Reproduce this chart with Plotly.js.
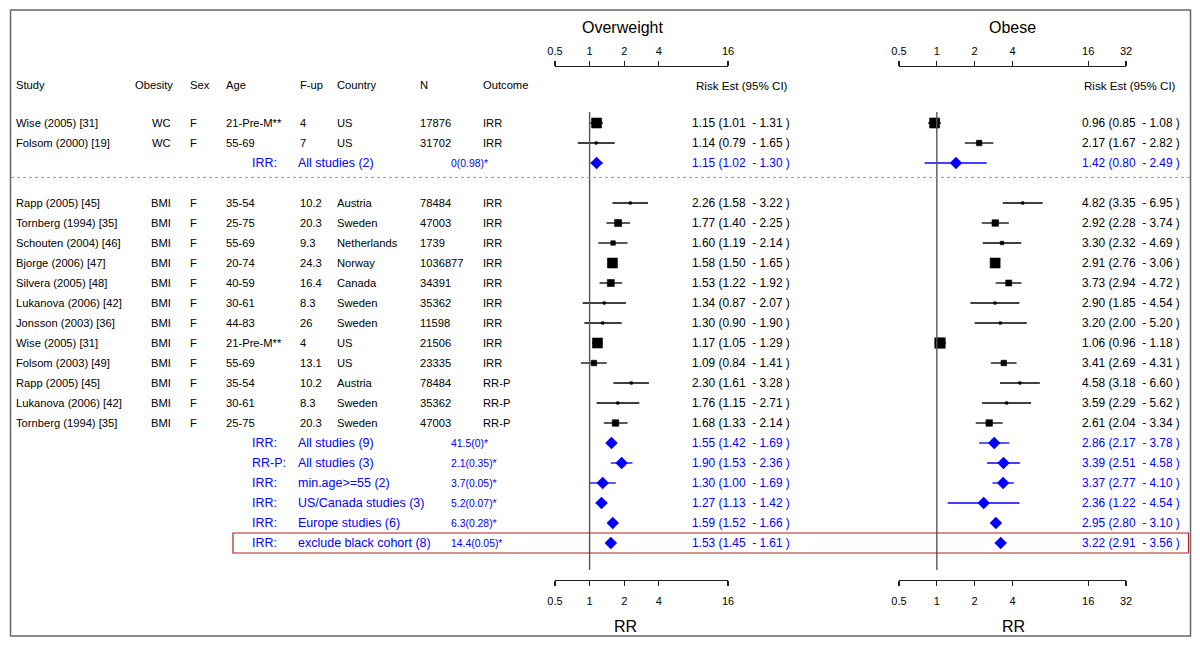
<!DOCTYPE html>
<html>
<head>
<meta charset="utf-8">
<script src="https://cdn.plot.ly/plotly-3.0.1.min.js"></script>
<style>
html,body{margin:0;padding:0;background:#fff;}
#chart{width:1200px;height:646px;}
</style>
</head>
<body>
<div id="chart"></div>
<script>
// ---------------- data ----------------
var studies = ["Wise (2005) [31]", "Folsom (2000) [19]", "Rapp (2005) [45]", "Tornberg (1994) [35]", "Schouten (2004) [46]", "Bjorge (2006) [47]", "Silvera (2005) [48]", "Lukanova (2006) [42]", "Jonsson (2003) [36]", "Wise (2005) [31]", "Folsom (2003) [49]", "Rapp (2005) [45]", "Lukanova (2006) [42]", "Tornberg (1994) [35]"];
var obesity = ["WC", "WC", "BMI", "BMI", "BMI", "BMI", "BMI", "BMI", "BMI", "BMI", "BMI", "BMI", "BMI", "BMI"];
var sex = ["F", "F", "F", "F", "F", "F", "F", "F", "F", "F", "F", "F", "F", "F"];
var age = ["21-Pre-M**", "55-69", "35-54", "25-75", "55-69", "20-74", "40-59", "30-61", "44-83", "21-Pre-M**", "55-69", "35-54", "30-61", "25-75"];
var fup = ["4", "7", "10.2", "20.3", "9.3", "24.3", "16.4", "8.3", "26", "4", "13.1", "10.2", "8.3", "20.3"];
var country = ["US", "US", "Austria", "Sweden", "Netherlands", "Norway", "Canada", "Sweden", "Sweden", "US", "US", "Austria", "Sweden", "Sweden"];
var nSubjects = ["17876", "31702", "78484", "47003", "1739", "1036877", "34391", "35362", "11598", "21506", "23335", "78484", "35362", "47003"];
var outcome = ["IRR", "IRR", "IRR", "IRR", "IRR", "IRR", "IRR", "IRR", "IRR", "IRR", "IRR", "RR-P", "RR-P", "RR-P"];

var owEst = [1.15, 1.14, 2.26, 1.77, 1.60, 1.58, 1.53, 1.34, 1.30, 1.17, 1.09, 2.30, 1.76, 1.68];
var owLo  = [1.01, 0.79, 1.58, 1.40, 1.19, 1.50, 1.22, 0.87, 0.90, 1.05, 0.84, 1.61, 1.15, 1.33];
var owHi  = [1.31, 1.65, 3.22, 2.25, 2.14, 1.65, 1.92, 2.07, 1.90, 1.29, 1.41, 3.28, 2.71, 2.14];
var owWeight = [10, 2.5, 2.5, 7, 4.5, 10, 7, 2.5, 2.5, 10, 5.5, 2.5, 2.5, 6.5];

var obEst = [0.96, 2.17, 4.82, 2.92, 3.30, 2.91, 3.73, 2.90, 3.20, 1.06, 3.41, 4.58, 3.59, 2.61];
var obLo  = [0.85, 1.67, 3.35, 2.28, 2.32, 2.76, 2.94, 1.85, 2.00, 0.96, 2.69, 3.18, 2.29, 2.04];
var obHi  = [1.08, 2.82, 6.95, 3.74, 4.69, 3.06, 4.72, 4.54, 5.20, 1.18, 4.31, 6.60, 5.62, 3.34];
var obWeight = [10, 5.5, 2.5, 6.5, 3.5, 10, 6, 2.5, 2.5, 10.5, 5.5, 2.5, 2.5, 6.5];

var sumType  = ["IRR:", "IRR:", "RR-P:", "IRR:", "IRR:", "IRR:", "IRR:"];
var sumLabel = ["All studies (2)", "All studies (9)", "All studies (3)", "min.age>=55 (2)", "US/Canada studies (3)", "Europe studies (6)", "exclude black cohort (8)"];
var sumQ     = ["0(0.98)*", "41.5(0)*", "2.1(0.35)*", "3.7(0.05)*", "5.2(0.07)*", "6.3(0.28)*", "14.4(0.05)*"];
var owSumEst = [1.15, 1.55, 1.90, 1.30, 1.27, 1.59, 1.53];
var owSumLo  = [1.02, 1.42, 1.53, 1.00, 1.13, 1.52, 1.45];
var owSumHi  = [1.30, 1.69, 2.36, 1.69, 1.42, 1.66, 1.61];
var obSumEst = [1.42, 2.86, 3.39, 3.37, 2.36, 2.95, 3.22];
var obSumLo  = [0.80, 2.17, 2.51, 2.77, 1.22, 2.80, 2.91];
var obSumHi  = [2.49, 3.78, 4.58, 4.10, 4.54, 3.10, 3.56];

var headers = ["Study", "Obesity", "Sex", "Age", "F-up", "Country", "N", "Outcome"];
var owTicks = [0.5, 1, 2, 4, 16];
var obTicks = [0.5, 1, 2, 4, 16, 32];
var panelTitles = ["Overweight", "Obese"];
var axisLabel = "RR";
var estHeader = "Risk Est (95% CI)";

// ---------------- layout helpers ----------------
var W = 1200, H = 646;
var FONT = "Liberation Sans, Arial, Helvetica, sans-serif";
var BLUE = "#0000ff";
function px(x) { return x / W; }
function py(y) { return 1 - y / H; }
// row index -> rows placed 20px apart, first row at pixel 123
var Y_RANGE = [(H - 123) / 20, -123 / 20];

// rows: first group (2 studies) then summary, gap, remaining studies, summaries
var studyRow = [];
for (var i = 0; i < studies.length; i++) studyRow.push(i < 2 ? i : i + 2);
var sumRow = [2];
for (var j = 1; j < sumType.length; j++) sumRow.push(15 + j);
var headerRow = -1.9;

function fmt(e, l, h) { return e.toFixed(2) + " (" + l.toFixed(2) + "  - " + h.toFixed(2) + " )"; }
function diff(a, b) { return a.map(function (v, i) { return v - b[i]; }); }

var annotations = [];
function ann(text, x, y, opt) {
  var a = {xref: "paper", yref: "y", x: px(x), y: y, text: text, showarrow: false,
    xanchor: "left", yanchor: "middle", borderpad: 0, borderwidth: 0,
    font: {family: FONT, size: 11.2, color: "#000"}};
  for (var k in opt) a[k] = opt[k];
  return a;
}

// table columns (left pixel positions)
var colX = {study: 16, obesityHdr: 134.5, obesityRight: 170.5, sex: 189.5, age: 225.5, fup: 300, country: 336.5, n: 419.5, outcome: 483};
var headerX = [colX.study, colX.obesityHdr, colX.sex, colX.age, colX.fup, colX.country, colX.n, colX.outcome];
headers.forEach(function (h, i) { annotations.push(ann(h, headerX[i], headerRow)); });
annotations.push(ann(estHeader, 696, headerRow, {font: {family: FONT, size: 11.6, color: "#000"}}));
annotations.push(ann(estHeader, 1084, headerRow, {font: {family: FONT, size: 11.6, color: "#000"}}));

for (var i = 0; i < studies.length; i++) {
  var r = studyRow[i];
  annotations.push(ann(studies[i], colX.study, r));
  annotations.push(ann(obesity[i], colX.obesityRight, r, {xanchor: "right"}));
  annotations.push(ann(sex[i], colX.sex, r));
  annotations.push(ann(age[i], colX.age, r));
  annotations.push(ann(fup[i], colX.fup, r));
  annotations.push(ann(country[i], colX.country, r));
  annotations.push(ann(nSubjects[i], colX.n, r));
  annotations.push(ann(outcome[i], colX.outcome, r));
  annotations.push(ann(fmt(owEst[i], owLo[i], owHi[i]), 691.5, r, {font: {family: FONT, size: 11.9, color: "#000"}}));
  annotations.push(ann(fmt(obEst[i], obLo[i], obHi[i]), 1081.5, r, {font: {family: FONT, size: 11.9, color: "#000"}}));
}
for (var j = 0; j < sumType.length; j++) {
  var r = sumRow[j];
  annotations.push(ann(sumType[j], 251.5, r, {font: {family: FONT, size: 12.5, color: BLUE}}));
  annotations.push(ann(sumLabel[j], 298, r, {font: {family: FONT, size: 12.5, color: BLUE}}));
  annotations.push(ann(sumQ[j], 450.5, r, {font: {family: FONT, size: 10.4, color: BLUE}}));
  annotations.push(ann(fmt(owSumEst[j], owSumLo[j], owSumHi[j]), 691.5, r, {font: {family: FONT, size: 11.9, color: BLUE}}));
  annotations.push(ann(fmt(obSumEst[j], obSumLo[j], obSumHi[j]), 1081.5, r, {font: {family: FONT, size: 11.9, color: BLUE}}));
}
// panel titles and axis labels
annotations.push(ann(panelTitles[0], 622.5, (27 - 123) / 20, {xanchor: "center", font: {family: FONT, size: 16, color: "#000"}}));
annotations.push(ann(panelTitles[1], 1012, (27 - 123) / 20, {xanchor: "center", font: {family: FONT, size: 16, color: "#000"}}));
annotations.push(ann(axisLabel, 625, (626 - 123) / 20, {xanchor: "center", font: {family: FONT, size: 16, color: "#000"}}));
annotations.push(ann(axisLabel, 1013, (626 - 123) / 20, {xanchor: "center", font: {family: FONT, size: 16, color: "#000"}}));

// ---------------- traces ----------------
var errStyle = function (color) { return {type: "data", symmetric: false, width: 0, thickness: 1.3, color: color}; };
function studyTrace(est, lo, hi, sizes, xa) {
  var e = errStyle("#000"); e.array = diff(hi, est); e.arrayminus = diff(est, lo);
  return {type: "scatter", mode: "markers", xaxis: xa, yaxis: "y", x: est, y: studyRow,
    marker: {symbol: "square", size: sizes, color: "#000", opacity: 1, line: {width: 0.6, color: "#000"}}, error_x: e,
    hoverinfo: "skip", showlegend: false};
}
function sumTrace(est, lo, hi, xa) {
  var e = errStyle(BLUE); e.array = diff(hi, est); e.arrayminus = diff(est, lo);
  return {type: "scatter", mode: "markers", xaxis: xa, yaxis: "y", x: est, y: sumRow,
    marker: {symbol: "diamond", size: 9.6, color: BLUE, opacity: 1, line: {width: 0}}, error_x: e,
    hoverinfo: "skip", showlegend: false};
}
var refTop = (112 - 123) / 20, refBottom = (570 - 123) / 20;
function refLine(xa) {
  return {type: "scatter", mode: "lines", xaxis: xa, yaxis: "y", x: [1, 1], y: [refTop, refBottom],
    line: {color: "#555", width: 1.4}, hoverinfo: "skip", showlegend: false};
}
var traces = [
  refLine("x4"), refLine("x5"),
  studyTrace(owEst, owLo, owHi, owWeight, "x2"),
  studyTrace(obEst, obLo, obHi, obWeight, "x3"),
  sumTrace(owSumEst, owSumLo, owSumHi, "x2"),
  sumTrace(obSumEst, obSumLo, obSumHi, "x3")
];

function logAxis(domain, ticks, side, position, range) {
  return {type: "log", domain: domain, range: range, anchor: "free", position: position, side: side,
    showline: true, linecolor: "#222", linewidth: 1.2, ticks: "outside", ticklen: 5, tickwidth: 1.1, tickcolor: "#222",
    tickmode: "array", tickvals: ticks, ticktext: ticks.map(String),
    tickfont: {family: FONT, size: 11, color: "#000"}, showgrid: false, zeroline: false, fixedrange: true,
    ticklabelstandoff: side === "top" ? 2 : 6};
}
var owDomain = [px(555), px(728)], obDomain = [px(899), px(1126)];
var owRange = [Math.log10(0.5), Math.log10(16)], obRange = [Math.log10(0.5), Math.log10(32)];

var layout = {
  width: W, height: H, margin: {l: 0, r: 0, t: 0, b: 0, pad: 0},
  paper_bgcolor: "#fff", plot_bgcolor: "rgba(0,0,0,0)", showlegend: false,
  font: {family: FONT, color: "#000"},
  xaxis: {visible: false, domain: [0, 1], range: [0, W]},
  yaxis: {visible: false, domain: [0, 1], range: Y_RANGE, anchor: "x", fixedrange: true},
  xaxis2: logAxis(owDomain, owTicks, "top", py(66), owRange),
  xaxis3: logAxis(obDomain, obTicks, "top", py(66), obRange),
  xaxis4: Object.assign(logAxis(owDomain, owTicks, "bottom", py(580), owRange), {overlaying: "x2"}),
  xaxis5: Object.assign(logAxis(obDomain, obTicks, "bottom", py(580), obRange), {overlaying: "x3"}),
  annotations: annotations,
  shapes: [
    {type: "rect", xref: "paper", yref: "paper", x0: px(10.5), x1: px(1190.5), y0: py(636), y1: py(10), line: {color: "#666", width: 1.5}},
    {type: "line", xref: "paper", yref: "y", x0: px(11), x1: px(1190), y0: 2.72, y1: 2.72, line: {color: "#999", width: 1, dash: "dot"}},
    {type: "rect", xref: "paper", yref: "y", x0: px(233), x1: px(1188.5), y0: sumRow[sumRow.length - 1] - 0.5, y1: sumRow[sumRow.length - 1] + 0.5, line: {color: "#b02020", width: 1.2}}
  ]
};

Plotly.newPlot("chart", traces, layout, {displayModeBar: false, staticPlot: true});
</script>
</body>
</html>
